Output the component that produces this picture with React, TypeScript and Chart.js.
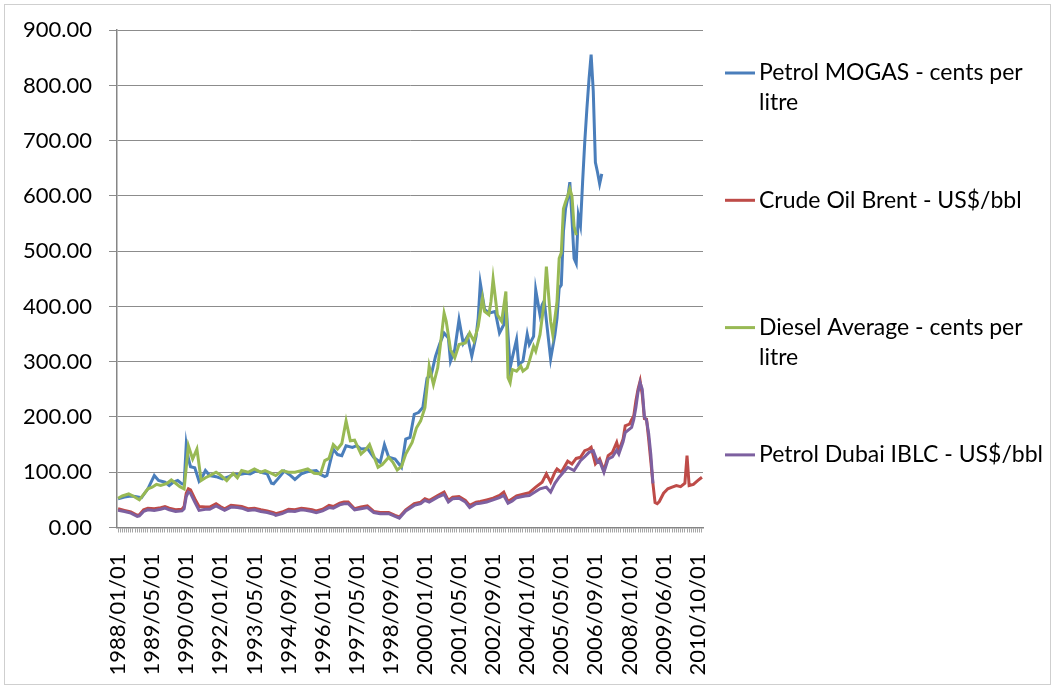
import React, { useEffect, useRef } from 'react';
import { Chart, registerables } from 'chart.js';

Chart.register(...registerables);

// x tick labels, one every 16 months (month index 0 = 1988/01)
const tickLabels = [
  '1988/01/01', '1989/05/01', '1990/09/01', '1992/01/01', '1993/05/01', '1994/09/01',
  '1996/01/01', '1997/05/01', '1998/09/01', '2000/01/01', '2001/05/01', '2002/09/01',
  '2004/01/01', '2005/05/01', '2006/09/01', '2008/01/01', '2009/06/01', '2010/10/01',
];
const tickStep = 16;
const monthCount = 275;

const seriesNames = [
  'Petrol MOGAS - cents per litre',
  'Crude Oil Brent - US$/bbl',
  'Diesel Average - cents per litre',
  'Petrol Dubai IBLC - US$/bbl',
];
// how the legend wraps each name
const legendLines = [
  ['Petrol MOGAS - cents per', 'litre'],
  ['Crude Oil Brent - US$/bbl'],
  ['Diesel Average - cents per', 'litre'],
  ['Petrol Dubai IBLC - US$/bbl'],
];
const seriesColors = ['#4a7ebb', '#be4b48', '#98b954', '#7d60a0'];

// [month index, value]
const petrolMogas: [number, number][] = [
  [0, 52], [3, 55], [6, 57], [8, 56], [11, 54], [14, 70], [17, 94], [19, 85], [22, 82], [24, 76],
  [26, 82], [28, 85], [30, 79], [31, 78], [32, 150], [33, 125], [34, 110], [36, 108], [38, 84], [40, 95],
  [41, 103], [43, 94], [46, 92], [49, 88], [52, 92], [54, 96], [57, 96], [60, 98], [62, 97], [65, 103],
  [67, 100], [70, 97], [72, 80], [73, 79], [75, 88], [78, 102], [81, 94], [83, 87], [86, 97], [88, 100],
  [90, 102], [93, 103], [95, 96], [97, 92], [98, 94], [101, 142], [103, 132], [105, 130], [107, 148], [110, 145],
  [112, 148], [114, 142], [117, 143], [120, 127], [123, 118], [125, 150], [127, 127], [130, 124], [133, 109], [135, 160],
  [137, 163], [139, 205], [141, 208], [143, 217], [145, 270], [147, 277], [149, 310], [151, 333], [153, 352], [155, 343],
  [156, 301], [158, 322], [160, 376], [162, 333], [164, 346], [166, 310], [168, 346], [169, 379], [170, 442], [172, 395],
  [174, 388], [177, 391], [179, 352], [181, 367], [182, 409], [184, 289], [185, 307], [187, 340], [188, 295], [190, 301],
  [192, 350], [193, 331], [195, 346], [196, 430], [198, 385], [199, 403], [200, 410], [202, 340], [203, 305], [205, 349],
  [206, 379], [207, 433], [208, 439], [209, 535], [210, 577], [211, 595], [212, 625], [213, 560], [214, 487], [215, 478],
  [216, 565], [217, 547], [218, 625], [219, 697], [220, 757], [221, 811], [222, 856], [223, 790], [224, 661], [225, 643],
  [226, 622], [227, 640],
];

const crudeBrent: [number, number][] = [
  [0, 34], [3, 31], [6, 28], [9, 22], [10, 23], [12, 32], [14, 35], [17, 34], [20, 36], [22, 38],
  [24, 35], [27, 32], [30, 33], [31, 38], [32, 62], [33, 70], [34, 68], [36, 52], [38, 38], [41, 37],
  [43, 37], [46, 43], [48, 38], [50, 34], [53, 40], [56, 39], [58, 38], [61, 34], [64, 35], [67, 32],
  [70, 30], [73, 27], [74, 25], [77, 28], [80, 33], [83, 32], [86, 35], [88, 34], [91, 32], [93, 30],
  [96, 33], [99, 40], [101, 38], [104, 44], [106, 46], [108, 46], [111, 34], [114, 37], [117, 39], [120, 29],
  [123, 27], [127, 27], [130, 22], [132, 19], [135, 32], [139, 43], [142, 46], [144, 52], [146, 49], [150, 58],
  [153, 64], [155, 49], [157, 55], [160, 56], [163, 49], [165, 40], [168, 46], [170, 47], [173, 50], [176, 53],
  [179, 58], [181, 64], [183, 47], [185, 52], [187, 57], [191, 61], [193, 63], [196, 73], [199, 82], [201, 97],
  [203, 82], [205, 100], [206, 106], [208, 100], [211, 120], [213, 115], [215, 125], [217, 127], [219, 139], [221, 142],
  [222, 145], [224, 115], [226, 124], [228, 103], [230, 130], [232, 136], [234, 154], [235, 139], [237, 160], [238, 184],
  [240, 187], [241, 195], [242, 202], [243, 229], [244, 250], [245, 265], [246, 240], [247, 197], [248, 196], [249, 160],
  [250, 120], [251, 80], [252, 45], [253, 43], [254, 47], [256, 62], [258, 70], [260, 73], [262, 76], [264, 74],
  [266, 80], [267, 130], [268, 76], [270, 78], [272, 85], [274, 91],
];

const dieselAverage: [number, number][] = [
  [0, 53], [2, 57], [5, 61], [7, 57], [10, 50], [12, 60], [14, 70], [16, 73], [18, 78], [20, 76],
  [23, 80], [25, 86], [27, 80], [29, 74], [31, 70], [33, 148], [35, 124], [37, 142], [39, 85], [41, 90],
  [43, 94], [46, 100], [48, 95], [51, 85], [54, 98], [56, 90], [58, 103], [61, 100], [64, 106], [67, 100],
  [69, 103], [72, 98], [74, 94], [77, 103], [80, 100], [83, 100], [86, 103], [89, 106], [92, 98], [95, 97],
  [97, 121], [99, 125], [101, 150], [103, 142], [105, 152], [107, 193], [109, 157], [111, 158], [114, 133], [116, 140],
  [118, 150], [122, 109], [124, 114], [127, 127], [129, 118], [131, 104], [133, 110], [135, 133], [138, 154], [140, 180],
  [142, 193], [144, 217], [146, 292], [148, 259], [150, 289], [153, 388], [154, 373], [156, 322], [158, 307], [160, 331],
  [163, 334], [165, 352], [167, 337], [169, 364], [171, 415], [172, 391], [174, 385], [175, 409], [176, 450], [178, 385],
  [180, 373], [182, 427], [183, 271], [184, 262], [185, 286], [187, 283], [189, 292], [190, 283], [192, 289], [193, 301],
  [195, 328], [196, 319], [198, 349], [200, 409], [201, 472], [203, 373], [204, 349], [206, 409], [207, 487], [208, 497],
  [209, 577], [210, 589], [211, 600], [212, 613], [213, 600], [214, 545], [215, 529],
];

const petrolDubai: [number, number][] = [
  [0, 31], [3, 29], [6, 26], [9, 20], [10, 21], [12, 29], [14, 32], [17, 31], [20, 33], [22, 35],
  [24, 32], [27, 29], [30, 30], [31, 34], [32, 56], [33, 64], [34, 62], [36, 46], [38, 31], [41, 33],
  [43, 33], [46, 39], [48, 35], [50, 31], [53, 37], [56, 36], [58, 35], [61, 31], [64, 32], [67, 29],
  [70, 27], [73, 24], [74, 22], [77, 25], [80, 30], [83, 29], [86, 32], [88, 31], [91, 29], [93, 27],
  [96, 30], [99, 36], [101, 35], [104, 41], [106, 43], [108, 43], [111, 32], [114, 34], [117, 36], [120, 27],
  [123, 25], [127, 25], [130, 20], [132, 17], [135, 30], [139, 40], [142, 43], [144, 49], [146, 46], [150, 55],
  [153, 60], [155, 46], [157, 52], [160, 53], [163, 46], [165, 36], [168, 43], [170, 44], [173, 46], [176, 50],
  [179, 54], [181, 58], [183, 44], [185, 48], [187, 54], [191, 57], [193, 58], [196, 65], [198, 70], [201, 73],
  [203, 64], [205, 80], [207, 91], [209, 100], [211, 109], [214, 103], [217, 121], [219, 128], [221, 136], [223, 139],
  [225, 118], [226, 120], [228, 100], [230, 124], [232, 128], [234, 140], [235, 133], [237, 155], [238, 172], [240, 178],
  [241, 181], [242, 195], [243, 217], [244, 245], [245, 262], [246, 250], [247, 200], [248, 194], [249, 170], [250, 133],
  [251, 80],
];

const yMin = 0;
const yMax = 900;
const yStep = 100;

const W = 1055;
const H = 689;
const FONT = 'Lato, "Open Sans", "DejaVu Sans", sans-serif';

// legend drawn to the right of the plot area, entries spread like the original
const sideLegend = {
  id: 'sideLegend',
  afterDraw(chart: any) {
    const ctx = chart.ctx;
    const area = chart.chartArea;
    const left = area.right + 22;
    const top = 73;
    const step = 127.3;
    const lineH = 30;
    ctx.save();
    ctx.font = `23px ${FONT}`;
    ctx.textBaseline = 'middle';
    ctx.textAlign = 'left';
    chart.data.datasets.forEach((ds: any, i: number) => {
      const y = top + i * step;
      ctx.strokeStyle = ds.borderColor;
      ctx.lineWidth = 3;
      ctx.beginPath();
      ctx.moveTo(left, y);
      ctx.lineTo(left + 30, y);
      ctx.stroke();
      ctx.fillStyle = '#000';
      legendLines[i].forEach((t, k) => ctx.fillText(t, left + 34, y + k * lineH));
    });
    ctx.restore();
  },
};

export default function App() {
  const ref = useRef<HTMLCanvasElement>(null);

  useEffect(() => {
    if (!ref.current) return;
    const all = [petrolMogas, crudeBrent, dieselAverage, petrolDubai];
    const chart = new Chart(ref.current, {
      type: 'line',
      data: {
        datasets: all.map((s, i) => ({
          label: seriesNames[i],
          data: s.map(([x, y]) => ({ x, y })),
          borderColor: seriesColors[i],
          backgroundColor: seriesColors[i],
          borderWidth: 3,
          pointRadius: 0,
          tension: 0,
          fill: false,
          order: 3 - i,
        })),
      },
      options: {
        animation: false,
        responsive: false,
        layout: { padding: { left: 5, top: 15, right: W - 703, bottom: 8 } },
        plugins: {
          tooltip: { enabled: false },
          legend: { display: false },
        },
        scales: {
          x: {
            type: 'linear',
            min: -0.5,
            max: monthCount - 0.5,
            afterBuildTicks: (s: any) => {
              s.ticks = Array.from({ length: monthCount }, (_, k) => ({ value: k }));
            },
            afterFit: (s: any) => {
              s.height = H - 527.5 - 8;
            },
            ticks: {
              autoSkip: false,
              minRotation: 90,
              maxRotation: 90,
              padding: 21,
              color: '#000',
              font: { family: FONT, size: 22 },
              callback: (v: any) => (v % tickStep === 0 ? tickLabels[v / tickStep] : ''),
            },
            grid: { drawOnChartArea: false, drawTicks: true, tickLength: 5, color: '#a6a6a6' },
            border: { color: '#868686', width: 1.5 },
          },
          y: {
            type: 'linear',
            min: yMin,
            max: yMax,
            afterFit: (s: any) => {
              s.width = 112;
            },
            ticks: {
              stepSize: yStep,
              padding: 17,
              color: '#000',
              font: { family: FONT, size: 22 },
              callback: (v: any) => Number(v).toFixed(2),
            },
            grid: { color: '#8c8c8c', lineWidth: 1, tickLength: 8 },
            border: { color: '#868686', width: 1.5 },
          },
        },
      } as any,
      plugins: [sideLegend],
    });
    return () => chart.destroy();
  }, []);

  return (
    <div style={{ position: 'absolute', left: 0, top: 0, width: W, height: H, background: '#fff' }}>
      <canvas ref={ref} width={W} height={H} style={{ display: 'block', width: W, height: H }} />
      <div
        style={{
          position: 'absolute',
          left: 4,
          top: 4,
          width: W - 10,
          height: H - 10,
          border: '1.5px solid #cfcfcf',
          pointerEvents: 'none',
        }}
      />
    </div>
  );
}
